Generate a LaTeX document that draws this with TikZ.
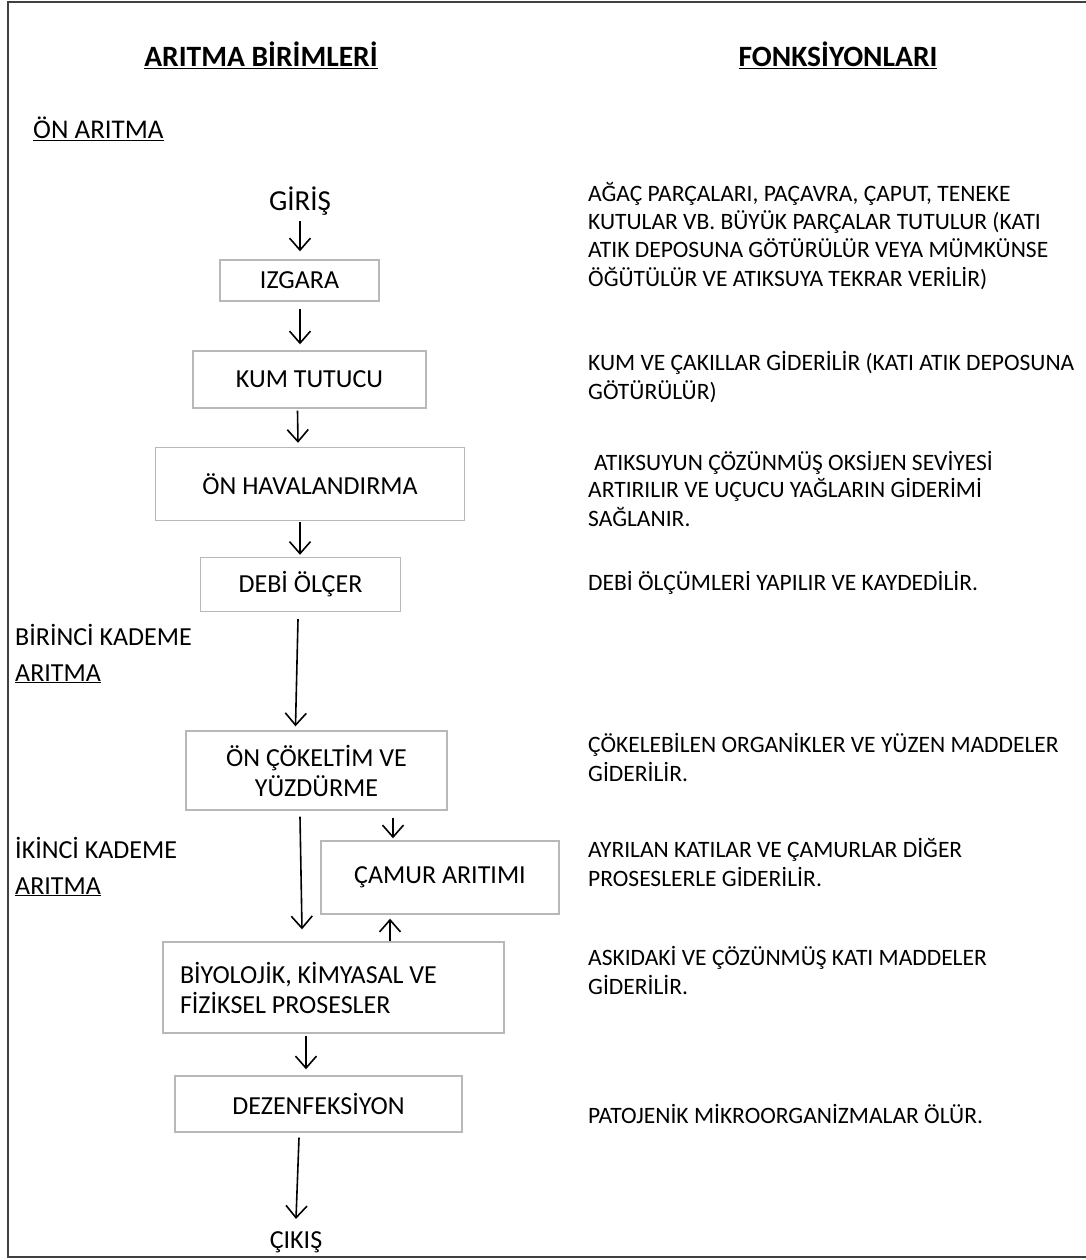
\documentclass[tikz,border=0pt]{standalone}
\usepackage{fontspec}
\setmainfont{Carlito}
\usetikzlibrary{arrows.meta,calc}
\begin{document}
\begin{tikzpicture}[x=1pt,y=-1pt,
  box/.style={draw=black!28, line width=1.4pt, inner sep=0pt, align=center,
    font=\fontsize{26}{30}\selectfont},
  desc/.style={anchor=base west, inner sep=0pt, align=flush left,
    font=\fontsize{23.5}{28.3}\selectfont},
  lbl/.style={anchor=base west, inner sep=0pt, align=flush left,
    font=\fontsize{26}{36}\selectfont},
  head/.style={anchor=base, inner sep=0pt, font=\bfseries\fontsize{29.5}{34}\selectfont},
  arr/.style={line width=1.6pt, -{Straight Barb[length=12pt,width=21pt,line width=1.6pt]}}
]
\useasboundingbox (0,0) rectangle (1086,1260);
\draw[line width=2.6pt, black!75] (1092,2) -- (8,2) -- (8,1257) -- (1092,1257);

% headings
\node[head] (h1) at (261,67) {\underline{ARITMA BİRİMLERİ}};
\node[head] (h2) at (838,67) {\underline{FONKSİYONLARI}};
\node[lbl, font=\fontsize{27}{32}\selectfont] (on) at (33,139) {\underline{ÖN ARITMA}};
\node[lbl] (k1) at (15,681) {BİRİNCİ KADEME\\\underline{ARITMA}};
\node[lbl] (k2) at (15,894) {İKİNCİ KADEME\\\underline{ARITMA}};

% flow
\node[inner sep=0pt, anchor=base, font=\fontsize{29}{34}\selectfont] (giris) at (300,211) {GİRİŞ};
\node[box, minimum width=159pt, minimum height=41pt] (izgara) at (299.5,280.5) {IZGARA};
\node[box, minimum width=233pt, minimum height=57pt] (kum) at (309.5,379.5) {KUM TUTUCU};
\node[box, minimum width=309pt, minimum height=73pt] (onh) at (310,484) {ÖN HAVALANDIRMA};
\node[box, minimum width=200pt, minimum height=54pt] (debi) at (300.5,584.5) {DEBİ ÖLÇER};
\node[box, minimum width=261pt, minimum height=79pt] (onc) at (316.5,770.5) {ÖN ÇÖKELTİM VE\\YÜZDÜRME};
\node[box, minimum width=238pt, minimum height=73pt] (camur) at (440,877.5) {ÇAMUR ARITIMI};
\node[box, text width=307pt, inner xsep=17pt, minimum height=91pt, align=flush left] (biyo) at (333.5,987.5) {BİYOLOJİK, KİMYASAL VE\\FİZİKSEL PROSESLER};
\node[box, minimum width=287pt, minimum height=56pt] (dez) at (318.5,1104) {DEZENFEKSİYON};
\node[inner sep=0pt, anchor=base, font=\fontsize{26}{30}\selectfont] (cikis) at (296,1248) {ÇIKIŞ};

\draw[arr] ($(giris.south)+(0,5)$) -- ($(izgara.north)+(0.5,-8)$);
\draw[arr] ($(izgara.south)+(0.5,7)$) -- ($(kum.north)+(-9.5,-6)$);
\draw[arr] ($(kum.south)+(-12,2)$) -- ($(onh.north)+(-12,-4)$);
\draw[arr] ($(onh.south)+(-10,1)$) -- ($(debi.north)+(-0.5,-2)$);
\draw[arr] ($(debi.south)+(-2.5,7)$) -- ($(onc.north)+(-21,-4)$);
\draw[arr] ($(onc.south)+(-16.5,6)$) -- ($(biyo.north)+(-31.5,-12)$);
\draw[arr] ($(onc.south)+(76.5,7)$) -- ($(camur.north)+(-47,-2)$);
\draw[arr] ($(biyo.north)+(56.5,0)$) -- ($(camur.south)+(-50,4)$);
\draw[arr] ($(biyo.south)+(-27.5,2)$) -- ($(dez.north)+(-12.5,-6)$);
\draw[arr] ($(dez.south)+(-19.5,5)$) -- ($(cikis.north)+(0,-12)$);

% descriptions
\node[desc] (d1) at (588,286) {AĞAÇ PARÇALARI, PAÇAVRA, ÇAPUT, TENEKE\\KUTULAR VB. BÜYÜK PARÇALAR TUTULUR (KATI\\ATIK DEPOSUNA GÖTÜRÜLÜR VEYA MÜMKÜNSE\\ÖĞÜTÜLÜR VE ATIKSUYA TEKRAR VERİLİR)};
\node[desc] (d2) at (588,399) {KUM VE ÇAKILLAR GİDERİLİR (KATI ATIK DEPOSUNA\\GÖTÜRÜLÜR)};
\node[desc] (d3) at (594,470) {ATIKSUYUN ÇÖZÜNMÜŞ OKSİJEN SEVİYESİ};
\node[desc] (d3b) at (588,526) {ARTIRILIR VE UÇUCU YAĞLARIN GİDERİMİ\\SAĞLANIR.};
\node[desc] (d4) at (588,590) {DEBİ ÖLÇÜMLERİ YAPILIR VE KAYDEDİLİR.};
\node[desc] (d5) at (588,781) {ÇÖKELEBİLEN ORGANİKLER VE YÜZEN MADDELER\\GİDERİLİR.};
\node[desc] (d6) at (588,886) {AYRILAN KATILAR VE ÇAMURLAR DİĞER\\PROSESLERLE GİDERİLİR.};
\node[desc] (d7) at (588,994) {ASKIDAKİ VE ÇÖZÜNMÜŞ KATI MADDELER\\GİDERİLİR.};
\node[desc] (d8) at (588,1123) {PATOJENİK MİKROORGANİZMALAR ÖLÜR.};
\end{tikzpicture}
\end{document}
